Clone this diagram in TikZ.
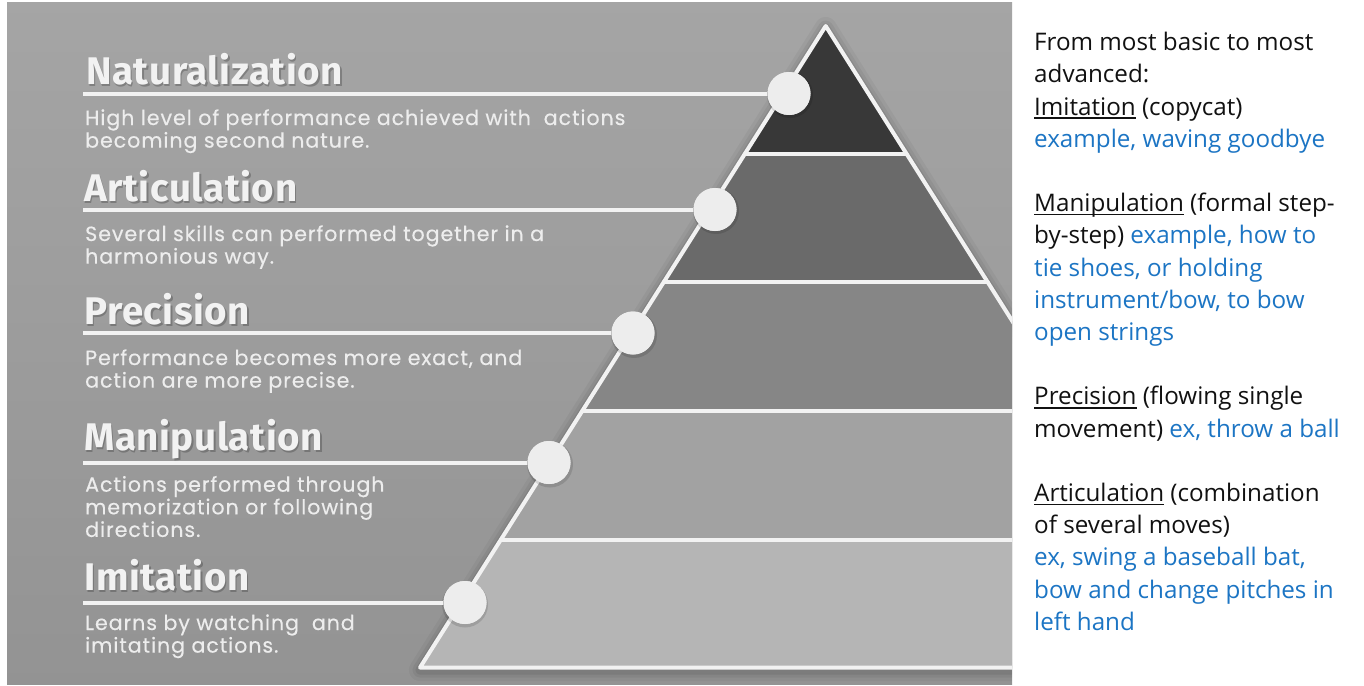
\documentclass[tikz,border=0pt]{standalone}
\usepackage{fontspec}
\setmainfont{Open Sans}
\newfontfamily\headfont{Fira Sans}[LetterSpace=1.5]
\newfontfamily\descfont{Poppins}[LetterSpace=4.5, FakeBold=0.35]

\definecolor{panelgray}{HTML}{A0A0A0}
\definecolor{bandA}{HTML}{383838}
\definecolor{bandB}{HTML}{6A6A6A}
\definecolor{bandC}{HTML}{868686}
\definecolor{bandD}{HTML}{A2A2A2}
\definecolor{bandE}{HTML}{B5B5B5}
\definecolor{chalk}{HTML}{F2F2F2}
\definecolor{desctext}{HTML}{EDEDED}
\definecolor{dotfill}{HTML}{EDEDED}
\definecolor{noteblue}{RGB}{28,117,196}
\definecolor{noteblack}{HTML}{111111}

% underline at a fixed depth below the baseline
\newcommand\uword[1]{\leavevmode\setbox0\hbox{#1}\rlap{\rule[-3.6pt]{\wd0}{1.3pt}}\box0\relax}
\newcommand\bl[1]{\textcolor{noteblue}{#1}}

\tikzset{
  edgeline/.style={draw=chalk, line width=4pt, line join=round, line cap=round},
  leader/.style={draw=chalk, line width=4pt},
  dot/.style={circle, fill=dotfill, minimum size=43pt, inner sep=0pt},
  dotshadow/.style={circle, fill=black, opacity=0.12, minimum size=46pt, inner sep=0pt},
  levelname/.style={anchor=base west, inner sep=0pt, text=chalk,
    font=\headfont\bfseries\fontsize{38.5}{40}\selectfont},
  levelshadow/.style={levelname, text=black, opacity=0.22},
  leveldesc/.style={anchor=base west, inner sep=0pt, text=desctext,
    font=\descfont\fontsize{20.6}{22.6}\selectfont},
  notes/.style={anchor=base west, inner sep=0pt, text=noteblack,
    font=\fontsize{24.2}{32.2}\selectfont},
}

\begin{document}
\begin{tikzpicture}[x=1pt,y=-1pt]
\useasboundingbox (0,0) rectangle (1364,685);
\fill[white] (0,0) rectangle (1364,685);

% grey backdrop
\shade[top color=panelgray!95!white, bottom color=panelgray!92!black] (7,3) rectangle (1012,684);

\begin{scope}
  \clip (7,3) rectangle (1012,684);
  % soft shadow around the pyramid
  \foreach \w/\o in {22/0.04,15/0.05,9/0.07}
    \draw[black, opacity=\o, line width=\w pt, line join=round]
      (825.7,28) -- (420,670) -- (1231.4,670) -- cycle;
  % pyramid bands, top to bottom
  \fill[bandA] (825.7,26) -- (906.6,154) -- (744.8,154) -- cycle;
  \fill[bandB] (744.8,154) -- (906.6,154) -- (987.5,282) -- (663.9,282) -- cycle;
  \fill[bandC] (663.9,282) -- (987.5,282) -- (1069,411) -- (582.4,411) -- cycle;
  \fill[bandD] (582.4,411) -- (1069,411) -- (1150.5,540) -- (500.9,540) -- cycle;
  \fill[bandE] (500.9,540) -- (1150.5,540) -- (1231.4,667.5) -- (420,667.5) -- cycle;
  % white dividers and outline
  \draw[edgeline] (744.8,154) -- (906.6,154);
  \draw[edgeline] (663.9,282) -- (987.5,282);
  \draw[edgeline] (582.4,411) -- (1069,411);
  \draw[edgeline] (500.9,540) -- (1150.5,540);
  \draw[edgeline] (825.7,26) -- (420,667.5) -- (1231.4,667.5) -- cycle;
\end{scope}

% markers on the left slope
\node[dotshadow] at (790,95) {};
\node[dotshadow] at (716,211) {};
\node[dotshadow] at (634,335) {};
\node[dotshadow] at (550,464.5) {};
\node[dotshadow] at (465,604.5) {};

\coordinate (s1) at (83,93.5);
\coordinate (s2) at (83,209.5);
\coordinate (s3) at (83,333);
\coordinate (s4) at (83,462.5);
\coordinate (s5) at (83,602.5);

\node[dot] (d1) at (789,93.5) {};
\node[dot] (d2) at (715,209.5) {};
\node[dot] (d3) at (633,333) {};
\node[dot] (d4) at (549,462.5) {};
\node[dot] (d5) at (465,602.5) {};

\draw[leader] (s1) -- (d1);
\draw[leader] (s2) -- (d2);
\draw[leader] (s3) -- (d3);
\draw[leader] (s4) -- (d4);
\draw[leader] (s5) -- (d5);
\node[dot] at (d1) {};
\node[dot] at (d2) {};
\node[dot] at (d3) {};
\node[dot] at (d4) {};
\node[dot] at (d5) {};

% level names
\node[levelshadow] at (87.5,86.3) {Naturalization};
\node[levelname] (n1) at (86,84.3) {Naturalization};
\node[levelshadow] at (85.5,203.7) {Articulation};
\node[levelname] (n2) at (84,201.7) {Articulation};
\node[levelshadow] at (85.5,326) {Precision};
\node[levelname] (n3) at (84,324) {Precision};
\node[levelshadow] at (85.5,452) {Manipulation};
\node[levelname] (n4) at (84,450) {Manipulation};
\node[levelshadow] at (85.5,592) {Imitation};
\node[levelname] (n5) at (84,590) {Imitation};

% level descriptions
\node[leveldesc] (t1) at (85,125) {\vtop{\hbox{High level of performance achieved with~ actions}\hbox{becoming second nature.}}};
\node[leveldesc] (t2) at (85,241) {\vtop{\hbox{Several skills can performed together in a}\hbox{harmonious way.}}};
\node[leveldesc] (t3) at (85,365) {\vtop{\hbox{Performance becomes more exact, and}\hbox{action are more precise.}}};
\node[leveldesc] (t4) at (85,491.7) {\vtop{\hbox{Actions performed through}\hbox{memorization or following}\hbox{directions.}}};
\node[leveldesc] (t5) at (85,630) {\vtop{\hbox{Learns by watching~ and}\hbox{imitating actions.}}};

% notes column
\node[notes] (notes) at (1034,50.7) {\vtop{%
  \hbox{From most basic to most}
  \hbox{advanced:}
  \hbox{\uword{Imitation} (copycat)}
  \hbox{\bl{example, waving goodbye}}
  \hbox{}
  \hbox{\uword{Manipulation} (formal step-}
  \hbox{by-step) \bl{example, how to}}
  \hbox{\bl{tie shoes, or holding}}
  \hbox{\bl{instrument/bow, to bow}}
  \hbox{\bl{open strings}}
  \hbox{}
  \hbox{\uword{Precision} (flowing single}
  \hbox{movement) \bl{ex, throw a ball}}
  \hbox{}
  \hbox{\uword{Articulation} (combination}
  \hbox{of several moves)}
  \hbox{\bl{ex, swing a baseball bat,}}
  \hbox{\bl{bow and change pitches in}}
  \hbox{\bl{left hand}}}};
\end{tikzpicture}
\end{document}
